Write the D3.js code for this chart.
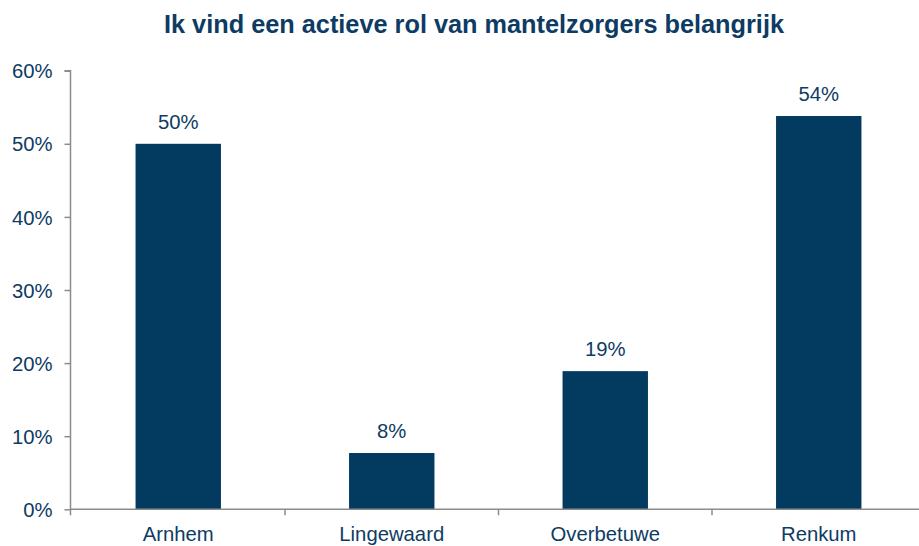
<!DOCTYPE html>
<html><head><meta charset="utf-8">
<script src="https://d3js.org/d3.v7.min.js"></script>
<style>body{margin:0;background:#fff}svg{display:block}</style>
</head><body>
<script>
const categories = ["Arnhem","Lingewaard","Overbetuwe","Renkum"];
const values = [50, 7.7, 18.9, 53.8];
const valueLabels = ["50%","8%","19%","54%"];
const yTicks = [0,10,20,30,40,50,60];
const title = "Ik vind een actieve rol van mantelzorgers belangrijk";

const W = 919, H = 546;
const textColor = "#0E3B63", barColor = "#033A60", axisColor = "#8C8C8C";
const svg = d3.select("body").append("svg").attr("width", W).attr("height", H);
const font = "Liberation Sans, Arial, sans-serif";

const x = d3.scaleBand().domain(categories).range([71.5, 925.5]).paddingInner(0.6).paddingOuter(0.3);
const y = d3.scaleLinear().domain([0, 60]).range([509.3, 70.7]);

svg.append("text").attr("x", 474).attr("y", 33).attr("text-anchor", "middle")
  .attr("font-family", font).attr("font-weight", "bold").attr("font-size", 25.3)
  .attr("fill", textColor).text(title);

svg.selectAll("rect.bar").data(values).enter().append("rect")
  .attr("x", (d,i) => x(categories[i])).attr("width", x.bandwidth())
  .attr("y", d => y(d)).attr("height", d => y(0) - y(d)).attr("fill", barColor);

svg.selectAll("text.val").data(values).enter().append("text")
  .attr("x", (d,i) => x(categories[i]) + x.bandwidth()/2).attr("y", d => y(d) - 15)
  .attr("text-anchor", "middle").attr("font-family", font).attr("font-size", 20.3)
  .attr("fill", textColor).text((d,i) => valueLabels[i]);

// y axis
const yAxis = d3.axisLeft(y).tickValues(yTicks).tickFormat(d => d + "%").tickSize(6).tickPadding(12);
const gy = svg.append("g").attr("transform", "translate(70.5,0)").call(yAxis);
gy.select(".domain").attr("stroke", axisColor).attr("stroke-width", 1.5).attr("d", `M-6,${y(60)}H0V${y(0)}`);
gy.selectAll(".tick line").attr("stroke", axisColor).attr("stroke-width", 1.5);
gy.selectAll(".tick text").attr("font-family", font).attr("font-size", 20.3).attr("fill", textColor).attr("dy", "0.35em");

// x axis
const step = x.step();
const xAxis = d3.axisBottom(x).tickSize(0).tickPadding(17.5);
const gx = svg.append("g").attr("transform", `translate(0,${y(0)})`).call(xAxis);
gx.select(".domain").attr("stroke", axisColor).attr("stroke-width", 1.5).attr("d", `M70.5,0H${W}`);
gx.selectAll(".tick text").attr("font-family", font).attr("font-size", 20.3).attr("fill", textColor);
gx.selectAll("line.sep").data(categories.slice(1)).enter().append("line").attr("class","sep")
  .attr("x1", c => x(c) - (step - x.bandwidth())/2).attr("x2", c => x(c) - (step - x.bandwidth())/2)
  .attr("y1", 0).attr("y2", 6).attr("stroke", axisColor).attr("stroke-width", 1.5);
gx.append("line").attr("x1", 70.5).attr("x2", 70.5).attr("y1", 0).attr("y2", 6)
  .attr("stroke", axisColor).attr("stroke-width", 1.5);
</script>
</body></html>
